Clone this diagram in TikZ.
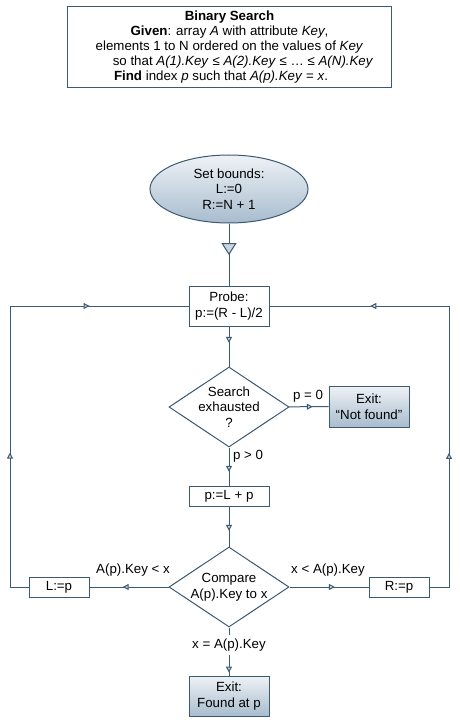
\documentclass[tikz,border=0pt]{standalone}
\usepackage{fontspec}
\setmainfont{Liberation Sans}
\usepackage{xcolor}
\usepackage{tikz}
\usetikzlibrary{arrows.meta, positioning, calc}
\usetikzlibrary{shapes.geometric, decorations.markings}

\definecolor{edge}{RGB}{61,90,115}
\definecolor{shadetop}{RGB}{238,242,246}
\definecolor{shadebot}{RGB}{168,188,206}
\definecolor{tipfill}{RGB}{200,214,226}

\tikzset{
  flow/.tip={Triangle[fill=tipfill, length=6pt, width=6pt]},
  bigflow/.tip={Triangle[fill=tipfill, length=12pt, width=15pt]},
  line/.style={draw=edge, line width=1pt},
  midarrow/.style={postaction={decorate, decoration={markings,
      mark=at position #1 with {\arrow{flow}}}}},
  stepbox/.style={line, rectangle, inner sep=0pt, align=center,
      minimum width=80pt, minimum height=40pt},
  exitbox/.style={stepbox, top color=shadetop, bottom color=shadebot},
  test/.style={line, diamond, aspect=1.5, inner sep=-2pt, align=center,
      minimum width=120pt, minimum height=80pt},
  lbl/.style={inner sep=1pt}
}

\begin{document}
\begin{tikzpicture}[x=1pt, y=-1pt, font=\fontsize{13.3}{15.5}\selectfont]
  \useasboundingbox (0,0) rectangle (459,722);

  % Problem statement
  \node[line, rectangle, minimum width=324pt, minimum height=81pt, align=center,
        inner sep=0pt, font=\fontsize{13.3}{15}\selectfont] (given) at (229.5,47)
    {\textbf{Binary Search}\\
     \textbf{Given}: array \textit{A} with attribute \textit{Key},\\
     elements 1 to N ordered on the values of \textit{Key}\\
     \hspace*{27pt}so that \textit{A(1).Key} ≤ \textit{A(2).Key} ≤ … ≤ \textit{A(N).Key}\\
     \textbf{Find} index \textit{p} such that \textit{A(p).Key} = \textit{x}.\hspace*{17pt}};

  % Start
  \node[line, ellipse, minimum width=158pt, minimum height=68pt, align=center,
        inner sep=0pt, top color=shadetop, bottom color=shadebot] (setb) at (229,189)
    {Set bounds:\\ L:=0\\ R:=N + 1};

  % Loop body
  \node[stepbox] (probe) at (229,306) {Probe:\\ p:=(R - L)/2};
  \node[test] (exh) at (229,407) {Search\\ exhausted\\ ?};
  \node[exitbox, minimum height=41pt] (notf) at (369,406.5) {Exit:\\ “Not found”};
  \node[stepbox, minimum height=20pt] (lpp) at (229,496) {p:=L + p};
  \node[test] (cmp) at (229,587) {Compare\\ A(p).Key to x};
  \node[stepbox, minimum width=60pt, minimum height=20pt] (lset) at (59,587) {L:=p};
  \node[stepbox, minimum width=60pt, minimum height=20pt] (rset) at (399,587) {R:=p};
  \node[exitbox] (found) at (229,696) {Exit:\\ Found at p};

  % Loop corners
  \coordinate (lbot) at (10,587);
  \coordinate (ltop) at (10,306);
  \coordinate (rbot) at (449,587);
  \coordinate (rtop) at (449,306);

  % Connectors
  \draw[line, postaction={decorate, decoration={markings,
        mark=at position 0.51 with {\arrow{bigflow}}}}] (setb) -- (probe);
  \draw[line, midarrow=0.41] (probe) -- (exh);
  \draw[line, midarrow=0.6] (exh) -- (notf);
  \draw[line, midarrow=0.64] (exh) -- (lpp);
  \draw[line, midarrow=0.61] (lpp) -- (cmp);
  \draw[line, midarrow=0.58] (cmp) -- (lset);
  \draw[line, midarrow=0.575] (cmp) -- (rset);
  \draw[line, midarrow=0.94] (cmp) -- node[pos=0.36, fill=white, inner sep=4pt] (eqlbl) {x = A(p).Key} (found);
  \draw[line, midarrow=0.32, midarrow=0.793] (lset) -- (lbot) -- (ltop) -- (probe);
  \draw[line, midarrow=0.32, midarrow=0.79] (rset) -- (rbot) -- (rtop) -- (probe);

  % Branch labels
  \node[lbl] (zlbl) at (308,396) {p = 0};
  \node[lbl] (plbl) at (248,456) {p > 0};
  \node[lbl] (ltlbl) at (133,570) {A(p).Key < x};
  \node[lbl] (gtlbl) at (328,570) {x < A(p).Key};
\end{tikzpicture}
\end{document}
